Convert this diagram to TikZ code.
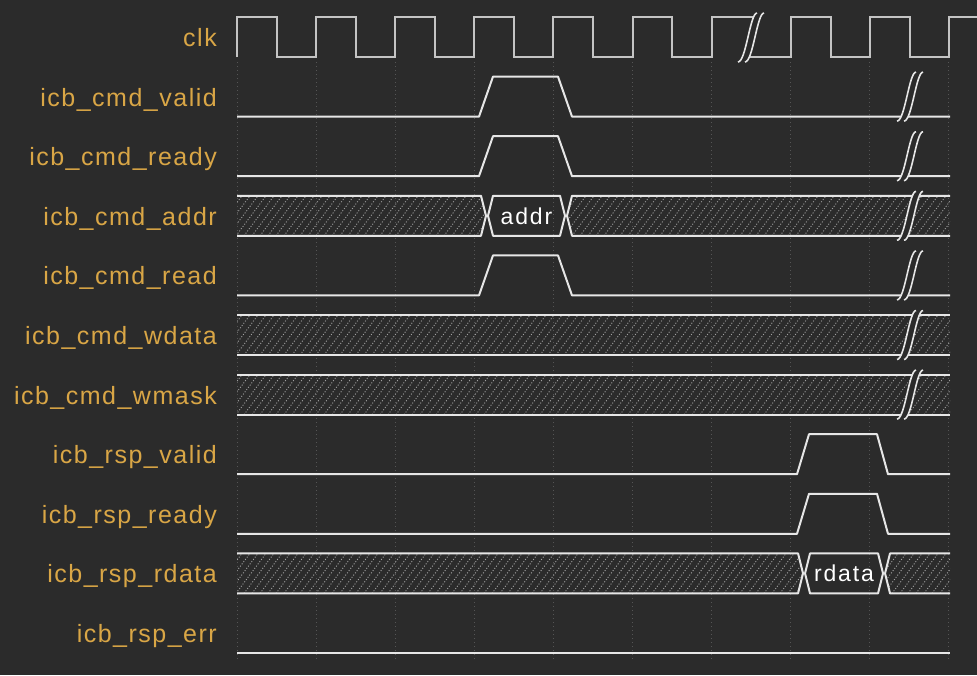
\documentclass[tikz,border=0pt]{standalone}
\usepackage{fontspec}
\setmainfont{Liberation Sans}
\newfontfamily\lblfont[LetterSpace=6]{Liberation Sans}
\newfontfamily\busfont[LetterSpace=8]{Liberation Sans}
\definecolor{bgc}{HTML}{2B2B2B}
\definecolor{sigc}{HTML}{E6E6E6}
\definecolor{clkc}{HTML}{C4C4C4}
\definecolor{lblc}{HTML}{D9A646}
\definecolor{gridc}{HTML}{555555}
\definecolor{hatchc}{HTML}{A0A0A0}
\newcommand\brkmark[3]{%
  \fill[bgc] (#1,#2) .. controls (#1+8,#2) and (#1+12,#3) .. (#1+19,#3) -- (#1+26,#3) .. controls (#1+19,#3) and (#1+15,#2) .. (#1+7,#2) -- cycle;
  \draw[brk] (#1,#2) .. controls (#1+8,#2) and (#1+12,#3) .. (#1+19,#3);
  \draw[brk] (#1+7,#2) .. controls (#1+15,#2) and (#1+19,#3) .. (#1+26,#3);
}
\newcommand\hatchrow[2]{% lo, hi
  \foreach \hx in {180,188,...,960} \draw[hatch] (\hx,#1) -- (\hx+30,#2);
}
\begin{document}
\begin{tikzpicture}[x=1pt,y=-1pt,
  sig/.style={draw=sigc, line width=2pt, line join=round},
  clksig/.style={draw=clkc, line width=2pt, line join=miter},
  lbl/.style={anchor=base east, text=lblc, inner sep=0pt, font=\lblfont\fontsize{25}{25}\selectfont},
  buslbl/.style={text=white, inner sep=0pt, font=\busfont\fontsize{23}{23}\selectfont},
  gridline/.style={draw=gridc, line width=0.9pt, dash pattern=on 1pt off 3pt},
  hatch/.style={draw=hatchc, line width=0.9pt, dash pattern=on 1pt off 1.8pt},
  brk/.style={draw=sigc, line width=1.6pt}]
\fill[bgc] (0,0) rectangle (977,675);
\useasboundingbox (0,0) rectangle (977,675);

% grid
\foreach \k in {0,...,9} \draw[gridline] (237+79.1*\k,62) -- (237+79.1*\k,662);

% labels
\node[lbl] (l0) at (217,46.5) {clk};
\node[lbl] (l1) at (217,106.1) {icb\_cmd\_valid};
\node[lbl] (l2) at (217,165.7) {icb\_cmd\_ready};
\node[lbl] (l3) at (217,225.3) {icb\_cmd\_addr};
\node[lbl] (l4) at (217,284.9) {icb\_cmd\_read};
\node[lbl] (l5) at (217,344.5) {icb\_cmd\_wdata};
\node[lbl] (l6) at (217,404.1) {icb\_cmd\_wmask};
\node[lbl] (l7) at (217,463.7) {icb\_rsp\_valid};
\node[lbl] (l8) at (217,523.3) {icb\_rsp\_ready};
\node[lbl] (l9) at (217,582.9) {icb\_rsp\_rdata};
\node[lbl] (l10) at (217,642.5) {icb\_rsp\_err};

% clock
\draw[clksig] (237,57) -- (237,17) -- (277,17) -- (277,57) -- (316,57) -- (316,17) -- (356,17) -- (356,57)
  -- (395,57) -- (395,17) -- (435,17) -- (435,57) -- (474,57) -- (474,17) -- (514,17) -- (514,57)
  -- (553,57) -- (553,17) -- (593,17) -- (593,57) -- (633,57) -- (633,17) -- (672,17) -- (672,57)
  -- (712,57) -- (712,17) -- (760,17);
\draw[clksig] (743,57) -- (791,57) -- (791,17) -- (831,17) -- (831,57) -- (870,57) -- (870,17)
  -- (910,17) -- (910,57) -- (949,57) -- (949,17) -- (977,17);

% single-bit cmd signals
\draw[sig] (237,116.6) -- (479,116.6) -- (493,76.6) -- (558,76.6) -- (572,116.6) -- (950,116.6);
\draw[sig] (237,176.2) -- (479,176.2) -- (493,136.2) -- (558,136.2) -- (572,176.2) -- (950,176.2);
\draw[sig] (237,295.4) -- (479,295.4) -- (493,255.4) -- (558,255.4) -- (572,295.4) -- (950,295.4);

% addr bus
\begin{scope}
  \clip (237,195.8) -- (481,195.8) -- (486,215.8) -- (481,235.8) -- (237,235.8) -- cycle;
  \hatchrow{235.8}{195.8}
\end{scope}
\begin{scope}
  \clip (950,195.8) -- (572,195.8) -- (567,215.8) -- (572,235.8) -- (950,235.8) -- cycle;
  \hatchrow{235.8}{195.8}
\end{scope}
\draw[sig] (237,195.8) -- (481,195.8) -- (486,215.8) -- (481,235.8) -- (237,235.8);
\draw[sig] (493,195.8) -- (560,195.8) -- (565,215.8) -- (560,235.8) -- (493,235.8) -- (488,215.8) -- cycle;
\draw[sig] (950,195.8) -- (572,195.8) -- (567,215.8) -- (572,235.8) -- (950,235.8);
\node[buslbl] (addr) at (526.5,215.8) {addr};

% wdata / wmask
\begin{scope}
  \clip (237,315) rectangle (950,355);
  \hatchrow{355}{315}
\end{scope}
\draw[sig] (237,315) -- (950,315);
\draw[sig] (237,355) -- (950,355);
\begin{scope}
  \clip (237,374.6) rectangle (950,414.6);
  \hatchrow{414.6}{374.6}
\end{scope}
\draw[sig] (237,374.6) -- (950,374.6);
\draw[sig] (237,414.6) -- (950,414.6);

% rsp single-bit
\draw[sig] (237,474.2) -- (797,474.2) -- (809,434.2) -- (877,434.2) -- (888,474.2) -- (950,474.2);
\draw[sig] (237,533.8) -- (797,533.8) -- (809,493.8) -- (877,493.8) -- (888,533.8) -- (950,533.8);

% rdata bus
\begin{scope}
  \clip (237,553.4) -- (798,553.4) -- (803,573.4) -- (798,593.4) -- (237,593.4) -- cycle;
  \hatchrow{593.4}{553.4}
\end{scope}
\begin{scope}
  \clip (950,553.4) -- (890,553.4) -- (885,573.4) -- (890,593.4) -- (950,593.4) -- cycle;
  \hatchrow{593.4}{553.4}
\end{scope}
\draw[sig] (237,553.4) -- (798,553.4) -- (803,573.4) -- (798,593.4) -- (237,593.4);
\draw[sig] (810,553.4) -- (878,553.4) -- (883,573.4) -- (878,593.4) -- (810,593.4) -- (805,573.4) -- cycle;
\draw[sig] (950,553.4) -- (890,553.4) -- (885,573.4) -- (890,593.4) -- (950,593.4);
\node[buslbl] (rdata) at (844,573.4) {rdata};

% err
\draw[sig] (237,653) -- (950,653);

% break marks
\brkmark{738}{62}{13}
\brkmark{897}{121.1}{72.1}
\brkmark{897}{180.7}{131.7}
\brkmark{897}{240.3}{191.3}
\brkmark{897}{299.9}{250.9}
\brkmark{897}{359.5}{310.5}
\brkmark{897}{419.1}{370.1}
\end{tikzpicture}
\end{document}
